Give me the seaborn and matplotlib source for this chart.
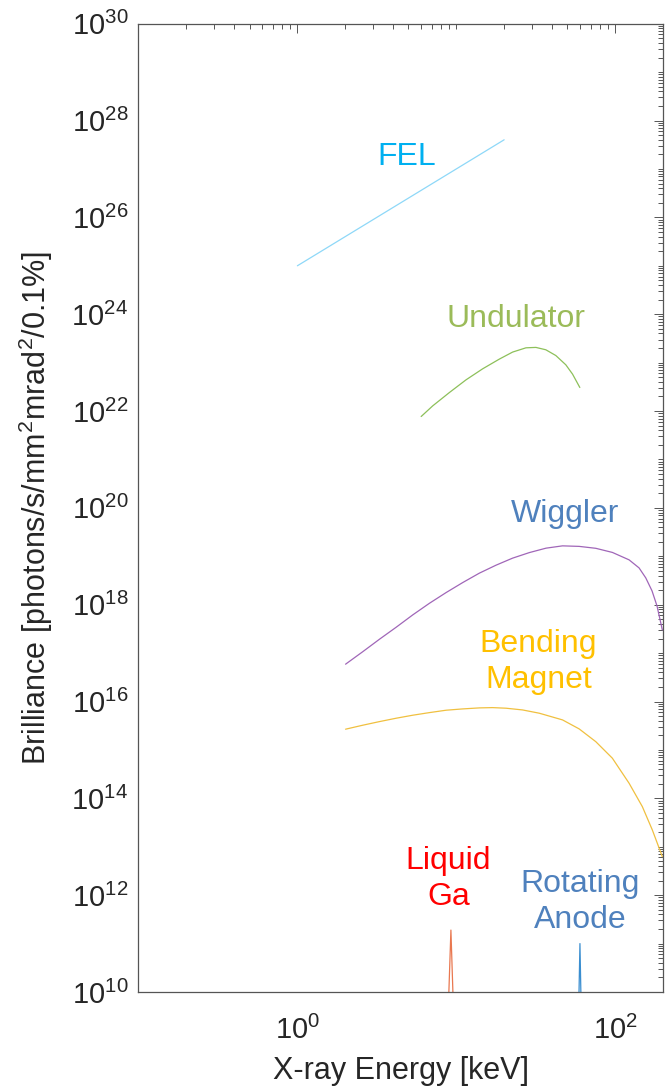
import numpy as np
import pandas as pd
import matplotlib
matplotlib.use("Agg")
import matplotlib.pyplot as plt
import matplotlib.ticker as mticker
import seaborn as sns

# ---- data (energy in keV, brilliance) ----
fel_kev = [1.0, 20.0]
fel_bri = [1.0e25, 4.0e27]

und_kev = [6.01, 7.11, 9.05, 11.52, 14.66, 18.65, 22.62, 27.44, 31.7, 36.6,
           42.3, 48.9, 53.9, 59.9]
und_bri = [7.7e21, 1.28e22, 2.41e22, 4.41e22, 7.45e22, 1.18e23, 1.65e23,
           2.02e23, 2.06e23, 1.84e23, 1.40e23, 9.0e22, 5.78e22, 3.06e22]

wig_kev = [2.01, 2.58, 3.29, 4.19, 5.32, 6.78, 8.63, 10.97, 13.97, 17.78,
           22.6, 28.8, 36.7, 46.6, 59.3, 75.5, 96.0, 122.3, 141.3, 155.7,
           170.5, 183.3, 198.0]
wig_bri = [5.9e16, 1.07e17, 1.94e17, 3.43e17, 6.15e17, 1.07e18, 1.78e18,
           2.86e18, 4.48e18, 6.54e18, 9.14e18, 1.19e19, 1.47e19, 1.64e19,
           1.60e19, 1.46e19, 1.20e19, 8.43e18, 5.75e18, 3.58e18, 1.93e18,
           9.4e17, 3.0e17]

bm_kev = [2.01, 2.58, 3.29, 4.19, 5.32, 6.78, 8.63, 10.97, 13.97, 16.93,
          20.55, 26.1, 33.3, 46.6, 59.3, 75.5, 96.0, 122.3, 148.2, 171.3, 198.0]
bm_bri = [2.68e15, 3.24e15, 3.85e15, 4.52e15, 5.21e15, 5.90e15, 6.61e15,
          7.03e15, 7.38e15, 7.48e15, 7.27e15, 6.70e15, 5.73e15, 4.17e15,
          2.72e15, 1.48e15, 6.74e14, 2.05e14, 6.74e13, 2.22e13, 6.24e12]

ga_kev = [8.98, 9.25, 9.52]
ga_bri = [1.0e10, 1.9e11, 1.0e10]

ra_kev = [59.2, 60.0, 60.8]
ra_bri = [1.0e10, 1.0e11, 1.0e10]

# label text, colour, anchor (keV, brilliance)
labels = [
    ("FEL", "#00B0F0", 4.86, 10 ** 27.25),
    ("Undulator", "#9BBB59", 23.9, 10 ** 23.90),
    ("Wiggler", "#4F81BD", 48.5, 10 ** 19.88),
    ("Bending\nMagnet", "#FFC000", 32.8, 10 ** 16.82),
    ("Liquid\nGa", "#FF0000", 8.92, 10 ** 12.33),
    ("Rotating\nAnode", "#4F81BD", 60.2, 10 ** 11.86),
]

sns.set_theme(style="white")
plt.rcParams["font.family"] = ["Liberation Sans", "DejaVu Sans"]
plt.rcParams["mathtext.fontset"] = "custom"
plt.rcParams["mathtext.rm"] = "Liberation Sans"
plt.rcParams["mathtext.it"] = "Liberation Sans:italic"
plt.rcParams["mathtext.bf"] = "Liberation Sans:bold"

fig = plt.figure(figsize=(6.7, 10.87), dpi=100)
ax = fig.add_axes([0.2067, 0.0874, 0.9896 - 0.2067, 0.9782 - 0.0874])
ax.set_xscale("log")
ax.set_yscale("log")

series = [
    (fel_kev, fel_bri, "#8ED8F8"),
    (und_kev, und_bri, "#8DC05A"),
    (wig_kev, wig_bri, "#A066B8"),
    (bm_kev, bm_bri, "#F0C040"),
    (ga_kev, ga_bri, "#E97850"),
    (ra_kev, ra_bri, "#3A8ED0"),
]
for xs, ys, col in series:
    df = pd.DataFrame({"kev": xs, "bri": ys})
    sns.lineplot(data=df, x="kev", y="bri", color=col, linewidth=0.9, ax=ax)

for txt, col, xk, yb in labels:
    ax.text(xk, yb, txt, color=col, fontsize=23, ha="center", va="center",
            linespacing=1.25)

ax.set_xlim(0.1, 200)
ax.set_ylim(1e10, 1e30)

ax.xaxis.set_major_locator(mticker.FixedLocator([1, 100]))
ax.xaxis.set_minor_locator(mticker.LogLocator(base=10, subs=np.arange(1, 10), numticks=100))
ax.yaxis.set_major_locator(mticker.LogLocator(base=100, numticks=100))
ax.yaxis.set_minor_locator(mticker.LogLocator(base=10, subs=np.arange(1, 10), numticks=100))
ax.xaxis.set_major_formatter(mticker.LogFormatterSciNotation())
ax.yaxis.set_major_formatter(mticker.LogFormatterSciNotation())
ax.xaxis.set_minor_formatter(mticker.NullFormatter())
ax.yaxis.set_minor_formatter(mticker.NullFormatter())

ax.tick_params(which="both", direction="in", top=True, right=True,
               color="#555555", width=0.7, labelsize=21, labelcolor="#262626")
ax.tick_params(axis="y", pad=7.5)
ax.tick_params(axis="x", pad=17)
ax.tick_params(which="major", length=6.5)
ax.tick_params(which="minor", length=3.5)
for sp in ax.spines.values():
    sp.set_color("#555555")
    sp.set_linewidth(0.9)

ax.set_xlabel("X-ray Energy [keV]", fontsize=22, color="#262626", labelpad=8)
ax.set_ylabel(r"Brilliance [photons/s/mm$^2$mrad$^2$/0.1%]", fontsize=22, color="#262626")
ax.yaxis.set_label_coords(-0.16, 0.5)

fig.savefig("out.png", dpi=100)
